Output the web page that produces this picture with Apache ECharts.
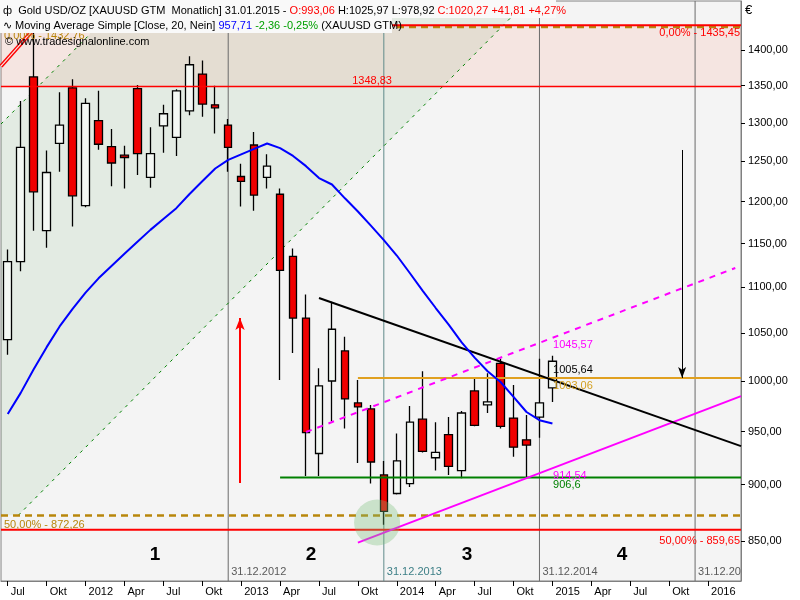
<!DOCTYPE html>
<html><head><meta charset="utf-8">
<script src="https://cdn.jsdelivr.net/npm/echarts@6/dist/echarts.min.js"></script>
<style>html,body{margin:0;padding:0;background:#fff}#c{width:800px;height:600px}</style>
</head><body><div id="c"></div>
<script>
const FONT = '"Liberation Sans", Arial, sans-serif';
// month index 0 = Jul 2011 ... 42 = Jan 2015
const open  = [1043,1129,1362,1165,1273,1347,1195,1303,1269,1258,1346,1230,1296,1281,1316,1366,1324,1297,1231,1271,1230,1209,1135,1066,929,1000,1031,978,972,909,892,901,962,925,947,913,990,976,1018,963,942,964,993.06];
const close = [1129,1268,1212,1236,1297,1207,1326,1272,1248,1255,1260,1260,1312,1343,1379,1325,1320,1268,1225,1208,1244,1119,1066,949,995,1054,982,974,921,876,922,959,931,930,917,968,956,979,955,935,937,978,1020.27];
const low   = [1027,1118,1165,1145,1237,1170,1193,1265,1219,1216,1233,1217,1261,1257,1310,1308,1286,1237,1194,1189,1216,1001,1029,908,908,960,953,920,901,864,891,898,930,913,909,906,955,968,953,926,907,944,978.92];
const high  = [1143,1329,1428,1264,1341,1359,1333,1343,1292,1270,1351,1294,1324,1345,1391,1385,1350,1305,1247,1288,1259,1216,1144,1092,1013,1084,1046,1001,976,922,948,975,1010,959,964,970,1004,1008,1023,996,966,1023,1025.97];
const ma20  = [967,988,1012,1035,1057,1076,1094,1110,1124,1138,1152,1166,1179,1192,1209,1225,1241,1252,1259,1266,1273,1267,1257,1244,1229,1221,1204,1188,1171,1154,1136,1116,1096,1077,1059,1040,1024,1010,999,984,969,961,957.71];

const xTickPos  = [0,3,6,9,12,15,18,21,24,27,30,33,36,39,42,45,48,51,54];
const xTickText = ['Jul','Okt','2012','Apr','Jul','Okt','2013','Apr','Jul','Okt','2014','Apr','Jul','Okt','2015','Apr','Jul','Okt','2016'];
const yTicks = [850,900,950,1000,1050,1100,1150,1200,1250,1300,1350,1400];

const X_MIN = -0.52, X_MAX = 56.54, Y_MIN = 816.1, Y_MAX = 1471.3;

// levels
const fibRed = [1435.45, 859.65];
const fibBrown = [1432.76, 872.26];
const resistance = 1348.83;
const orangeLevel = {from: 27, value: 1003.06};
const greenLevel = {from: 21, value: 906.6};

// trend lines
const blackTrend = [[24, 1088], [X_MAX, 936]];
const magentaDashed = [[23, 949.5], [56.1, 1121.7]];
const magentaSolid = [[27, 848.5], [X_MAX, 984.7]];
const channelLower = [[0.82, 872.5], [40.06, Y_MAX]];
const channelUpper = [[X_MIN, 1298.4], [8.87, Y_MAX]];
const redEdge = [[X_MIN, 1377], [2.35, 1437]];

const yearEnds = [17, 29, 41, 53];
const yearEndText = ['31.12.2012','31.12.2013','31.12.2014','31.12.2015'];
const yearEndColor = ['#5a5a5a','#3d7f86','#5a5a5a','#5a5a5a'];

const fills = [
  {pts: [[X_MIN,1348.83],[X_MAX,1348.83],[X_MAX,1435.45],[X_MIN,1435.45]], color: 'rgba(255,120,90,0.12)'},
  {pts: [[X_MIN,872.5],[0.82,872.5],[40.06,Y_MAX],[8.87,Y_MAX],[X_MIN,1298.4]], color: 'rgba(80,160,80,0.10)'}
];

const annotations = [
  {m: 28.09, v: 1356.5, t: '1348,83', c: '#ff0000', align: 'center'},
  {m: 56.47, v: 1423.8, t: '0,00% - 1435,45', c: '#ff0000', align: 'right'},
  {m: 56.47, v: 849.9, t: '50,00% - 859,65', c: '#ff0000', align: 'right'},
  {m: -0.29, v: 864.2, t: '50,00% - 872,26', c: '#b8860b', align: 'left'},
  {m: -0.29, v: 1419.9, t: '0,00% - 1432,76', c: '#b8860b', align: 'left'},
  {m: 42.05, v: 1037.3, t: '1045,57', c: '#ff00ff', align: 'left'},
  {m: 42.05, v: 1011.2, t: '1005,64', c: '#000000', align: 'left'},
  {m: 42.05, v: 995, t: '1003,06', c: '#d4a020', align: 'left'},
  {m: 42.05, v: 908, t: '914,54', c: '#ff00ff', align: 'left'},
  {m: 42.05, v: 899.6, t: '906,6', c: '#008000', align: 'left'},
  {m: 11.35, v: 837.9, t: '1', c: '#000', align: 'center', font: 'bold 19px ' + FONT},
  {m: 23.39, v: 837.9, t: '2', c: '#000', align: 'center', font: 'bold 19px ' + FONT},
  {m: 35.42, v: 837.9, t: '3', c: '#000', align: 'center', font: 'bold 19px ' + FONT},
  {m: 47.37, v: 837.9, t: '4', c: '#000', align: 'center', font: 'bold 19px ' + FONT}
];
yearEnds.forEach((m, i) => annotations.push({m: m + 0.23, v: 823.6, t: yearEndText[i], c: yearEndColor[i], align: 'left', width: i === 3 ? 46 : 0}));

const candleData = open.map((o, i) => [i, o, close[i], low[i], high[i]]);
const maData = ma20.map((v, i) => [i, v]);

function hLine(v, color, width, type, z) {
  return {type: 'line', data: [[X_MIN, v], [X_MAX, v]], symbol: 'none', z: z || 3, silent: true,
    lineStyle: {color, width, type: type || 'solid'}};
}
function seg(pts, color, width, type, z) {
  return {type: 'line', data: pts, symbol: 'none', z: z || 3, silent: true,
    lineStyle: {color, width, type: type || 'solid'}};
}

const series = [
  {type: 'custom', z: 1, silent: true, data: [[0, 1000]], encode: {x: 0, y: 1},
    renderItem: (params, api) => ({type: 'group', children: fills.map(f => ({
      type: 'polygon', shape: {points: f.pts.map(p => api.coord(p))}, style: {fill: f.color}}))})},
];
yearEnds.forEach((m, i) => series.push(seg([[m, Y_MIN], [m, Y_MAX]], i === 1 ? '#5f8a8a' : '#6a6a6a', 1, 'solid', 1)));
series.push(seg(channelLower, '#008000', 1, [3, 5], 1));
series.push(seg(channelUpper, '#008000', 1, [3, 5], 1));
series.push(seg(redEdge, '#ff0000', 4, 'solid', 1));
series.push(seg(redEdge, '#f6e8e4', 1.2, 'solid', 1));
series.push({
  type: 'candlestick', z: 2, barWidth: 8, silent: true,
  data: candleData,
  itemStyle: {color: '#f4f8f4', color0: '#f00000', borderColor: '#000', borderColor0: '#000', borderWidth: 1.3}
});
series.push(hLine(fibBrown[0], '#b8860b', 2.5, [7, 5]));
series.push(hLine(fibBrown[1], '#b8860b', 2.5, [7, 5]));
series.push(hLine(fibRed[0], '#ff0000', 2));
series.push(hLine(fibRed[1], '#ff0000', 2));
series.push(hLine(resistance, '#ff0000', 1.5));
series.push(seg([[orangeLevel.from, orangeLevel.value], [X_MAX, orangeLevel.value]], '#e0a020', 2));
series.push(seg([[greenLevel.from, greenLevel.value], [X_MAX, greenLevel.value]], '#008000', 2));
series.push(seg(magentaDashed, '#ff00ff', 2, [6, 6]));
series.push(seg(magentaSolid, '#ff00ff', 2));
series.push(seg(blackTrend, '#000000', 2));
series.push({type: 'line', data: maData, symbol: 'none', z: 4, silent: true, lineStyle: {color: '#0000ff', width: 2},
  markLine: {silent: true, animation: false, label: {show: false},
    data: [
      [{coord: [17.91, 901.5], symbol: 'none', lineStyle: {color: '#ff0000', width: 2, type: 'solid'}},
       {coord: [17.91, 1066], symbol: 'arrow', symbolSize: [7, 12]}],
      [{coord: [52, 1264.6], symbol: 'none', lineStyle: {color: '#000000', width: 1, type: 'solid'}},
       {coord: [52, 1003.06], symbol: 'arrow', symbolSize: [6, 11]}]
    ]}});
series.push({type: 'scatter', z: 5, silent: true, data: [[28.48, 866]], symbolSize: 46,
  itemStyle: {color: 'rgba(120,190,120,0.42)'}});
series.push({type: 'custom', z: 6, silent: true, data: annotations.map((a, i) => [a.m, a.v, i]), encode: {x: 0, y: 1},
  renderItem: (params, api) => {
    const a = annotations[api.value(2)];
    const p = api.coord([api.value(0), api.value(1)]);
    const st = {text: a.t, fill: a.c, font: a.font || ('11px ' + FONT), align: a.align, verticalAlign: 'middle'};
    if (a.width) { st.width = a.width; st.overflow = 'truncate'; st.ellipsis = ''; }
    return {type: 'text', x: p[0], y: p[1], style: st};
  }});

const chart = echarts.init(document.getElementById('c'), null, {renderer: 'canvas'});
chart.setOption({
  animation: false,
  backgroundColor: '#ffffff',
  grid: {left: 1, top: 1, right: 59, bottom: 19, show: true, backgroundColor: '#f4f4f4', borderColor: '#808080', borderWidth: 1},
  xAxis: {
    type: 'value', min: X_MIN, max: X_MAX,
    axisLine: {show: true, onZero: false, lineStyle: {color: '#808080'}},
    axisTick: {show: true, customValues: xTickPos, length: 5, lineStyle: {color: '#000'}},
    axisLabel: {customValues: xTickPos, formatter: v => xTickText[xTickPos.indexOf(Math.round(v))] || '',
      align: 'left', padding: [0, 0, 0, 3], color: '#000', fontSize: 11, fontFamily: FONT, margin: 5},
    splitLine: {show: false}
  },
  yAxis: {
    type: 'log', position: 'right', min: Y_MIN, max: Y_MAX,
    axisLine: {show: true, onZero: false, lineStyle: {color: '#808080'}},
    axisTick: {show: true, customValues: yTicks, length: 4, lineStyle: {color: '#000'}},
    axisLabel: {customValues: yTicks, formatter: v => Number(v).toFixed(2).replace('.', ','), color: '#000', fontSize: 11, fontFamily: FONT, margin: 7},
    splitLine: {show: false}
  },
  graphic: [
    {type: 'rect', z: 100, shape: {x: 0, y: 0, width: 556, height: 18}, style: {fill: '#f9f9f9'}},
    {type: 'rect', z: 100, shape: {x: 0, y: 18, width: 392, height: 15}, style: {fill: '#f9f9f9'}},
    {type: 'text', z: 101, x: 3, y: 11, style: {
      text: '{k|ф  Gold USD/OZ [XAUUSD GTM  Monatlich] 31.01.2015 - }{r|O:993,06}{k| H:1025,97 L:978,92 }{r|C:1020,27 +41,81 +4,27%}',
      verticalAlign: 'middle',
      rich: {k: {fill: '#000', fontSize: 11, fontFamily: FONT}, r: {fill: '#ff0000', fontSize: 11, fontFamily: FONT}}}},
    {type: 'text', z: 101, x: 3, y: 25.5, style: {
      text: '{k|∿ Moving Average Simple [Close, 20, Nein] }{b|957,71}{g| -2,36 -0,25%}{k| (XAUUSD GTM)}',
      verticalAlign: 'middle',
      rich: {k: {fill: '#000', fontSize: 11, fontFamily: FONT}, b: {fill: '#0000ff', fontSize: 11, fontFamily: FONT}, g: {fill: '#00a000', fontSize: 11, fontFamily: FONT}}}},
    {type: 'text', z: 101, x: 5, y: 42, style: {text: '© www.tradesignalonline.com', fill: '#000', font: '11px ' + FONT, verticalAlign: 'middle'}},
    {type: 'text', z: 101, x: 745, y: 10, style: {text: '€', fill: '#000', font: '13px ' + FONT, verticalAlign: 'middle'}}
  ],
  series
});
</script>
</body></html>
